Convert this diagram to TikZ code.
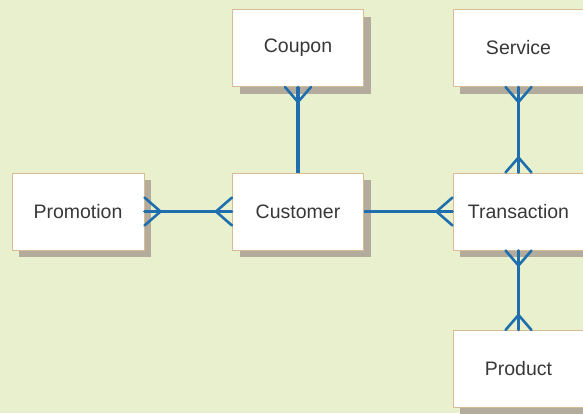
\documentclass[tikz,border=0pt]{standalone}
\usepackage{fontspec}
\setmainfont{Liberation Sans}
\usetikzlibrary{calc,shadows}
\definecolor{bg}{HTML}{E9F0CD}
\definecolor{rel}{HTML}{1F6EAE}
\definecolor{edge}{HTML}{D9BC93}
\definecolor{shade}{HTML}{B3AC9C}
\definecolor{txt}{HTML}{383838}
\tikzset{
  entity/.style={draw=edge, line width=1pt, fill=white, minimum width=131pt, minimum height=77pt,
    inner sep=0pt, font=\fontsize{19.5}{21}\selectfont, text=txt,
    drop shadow={shadow xshift=7pt, shadow yshift=-7pt, fill=shade, opacity=1}},
  relline/.style={draw=rel, line width=3.2pt},
  prong/.style={draw=rel, line width=2.6pt, line cap=round}
}
\newcommand\crowS[1]{\draw[prong] ($(#1)+(0,15)$) -- ($(#1)+(-13,0)$) ($(#1)+(0,15)$) -- (#1) ($(#1)+(0,15)$) -- ($(#1)+(13,0)$);}
\newcommand\crowN[1]{\draw[prong] ($(#1)+(0,-15)$) -- ($(#1)+(-13,0)$) ($(#1)+(0,-15)$) -- (#1) ($(#1)+(0,-15)$) -- ($(#1)+(13,0)$);}
\newcommand\crowE[1]{\draw[prong] ($(#1)+(16,0)$) -- ($(#1)+(0,-14)$) ($(#1)+(16,0)$) -- (#1) ($(#1)+(16,0)$) -- ($(#1)+(0,14)$);}
\newcommand\crowW[1]{\draw[prong] ($(#1)+(-16,0)$) -- ($(#1)+(0,-14)$) ($(#1)+(-16,0)$) -- (#1) ($(#1)+(-16,0)$) -- ($(#1)+(0,14)$);}
\begin{document}
\begin{tikzpicture}[x=1pt,y=-1pt]
\fill[bg] (0,0) rectangle (583,413);
\useasboundingbox (0,0) rectangle (583,413);
\node[entity] (coupon) at (298,48) {Coupon};
\node[entity] (service) at (518.5,48) {Service};
\node[entity, minimum width=132pt] (promo) at (78,211.5) {Promotion};
\node[entity] (cust) at (298,211.5) {Customer};
\node[entity] (trans) at (518.5,211.5) {Transaction};
\node[entity] (prod) at (518.5,369) {Product};
% connectors
\draw[relline] (coupon.south) -- (cust.north);
\crowS{coupon.south}
\draw[relline] (service.south) -- (trans.north);
\crowS{service.south}
\crowN{trans.north}
\draw[relline] (promo.east) -- (cust.west);
\crowE{promo.east}
\crowW{cust.west}
\draw[relline] (cust.east) -- (trans.west);
\crowW{trans.west}
\draw[relline] (trans.south) -- (prod.north);
\crowS{trans.south}
\crowN{prod.north}
\end{tikzpicture}
\end{document}
